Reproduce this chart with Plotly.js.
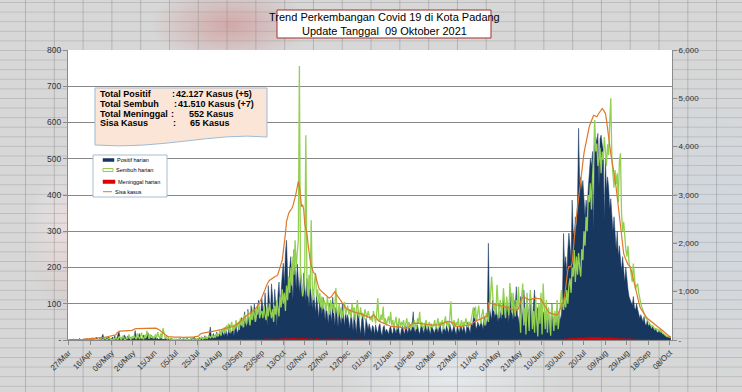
<!DOCTYPE html>
<html>
<head>
<meta charset="utf-8">
<script src="https://cdn.plot.ly/plotly-3.0.1.min.js"></script>
<style>
html,body{margin:0;padding:0;}
#chart{width:742px;height:392px;
background-color:#d7d7d7;
background-image:
 linear-gradient(to right, rgba(150,150,150,0.55) 1px, transparent 1px),
 linear-gradient(to bottom, rgba(150,150,150,0.4) 1px, transparent 1px),
 radial-gradient(ellipse 170px 150px at 150px 250px, rgba(226,140,140,0.55), rgba(226,140,140,0) 72%),
 radial-gradient(ellipse 110px 55px at 230px 25px, rgba(205,110,110,0.45), rgba(205,110,110,0) 72%),
 radial-gradient(ellipse 60px 90px at 70px 230px, rgba(255,255,255,0.55), rgba(255,255,255,0) 72%),
 radial-gradient(ellipse 160px 60px at 450px 380px, rgba(240,245,250,0.6), rgba(240,245,250,0) 72%),
 radial-gradient(ellipse 180px 220px at 720px 220px, rgba(205,215,228,0.6), rgba(205,215,228,0) 72%);
background-size: 28.8px 100%, 100% 9.6px, 100% 100%, 100% 100%, 100% 100%, 100% 100%, 100% 100%;
background-position: 25px 0, 0 2px, 0 0, 0 0, 0 0, 0 0, 0 0;
}
</style>
</head>
<body>
<div id="chart"></div>
<script>
// x tick labels (every 20 days from 27 Mar 2020)
const tickLabels = ["27/Mar","16/Apr","06/May","26/May","15/Jun","05/Jul","25/Jul","14/Aug","03/Sep","23/Sep","13/Oct","02/Nov","22/Nov","12/Dec","01/Jan","21/Jan","10/Feb","02/Mar","22/Mar","11/Apr","01/May","21/May","10/Jun","30/Jun","20/Jul","09/Aug","29/Aug","18/Sep","08/Oct"];
const leftTicks = [0,100,200,300,400,500,600,700,800];
const leftTickText = ["-","100","200","300","400","500","600","700","800"];
const rightTicks = [0,1000,2000,3000,4000,5000,6000];
const rightTickText = ["-","1,000","2,000","3,000","4,000","5,000","6,000"];

// Positif harian (daily)
const positif = [
1,0,2,0,1,3,0,2,1,0,4,2,0,1,3,2,0,5,1,2,
3,1,6,2,0,4,8,3,1,5,2,9,16,4,2,7,3,10,5,2,
4,8,2,12,5,3,15,23,6,2,9,4,14,7,3,11,5,2,8,6,
10,4,26,8,3,12,18,5,2,9,14,6,3,11,20,7,4,13,5,9,
3,8,2,5,1,4,7,2,3,1,5,2,0,3,1,2,4,1,0,2,
1,3,0,2,5,1,0,4,2,1,6,3,0,2,1,5,2,8,3,1,
4,2,7,3,9,5,2,12,6,3,8,15,36,10,4,18,7,12,22,9,
14,25,8,30,18,12,35,20,9,28,42,15,22,38,11,32,45,18,26,50,
40,62,30,55,78,45,35,85,60,40,95,70,52,100,80,48,90,110,65,75,
115,85,60,130,95,40,150,110,70,155,120,55,140,100,35,125,160,90,145,180,
212,150,240,275,180,120,200,230,160,110,250,190,140,210,175,130,200,160,120,185,
155,110,170,130,90,157,120,85,140,100,75,125,95,60,115,100,70,118,85,55,
95,70,45,100,80,50,118,65,40,90,72,35,85,60,42,100,75,38,80,55,
70,45,30,82,60,25,75,50,20,65,83,40,15,55,70,35,10,60,45,30,
45,30,20,40,35,15,42,28,18,38,45,22,12,35,40,20,30,25,15,32,
38,22,15,40,28,18,35,45,20,12,30,38,25,15,42,30,18,35,28,22,
45,78,30,20,38,42,25,15,35,40,28,18,45,30,22,38,25,15,40,32,
28,18,42,35,20,30,45,25,15,38,30,22,40,28,18,45,35,20,30,42,
25,15,38,30,20,45,35,22,40,28,15,42,50,30,20,45,38,60,88,40,
30,50,42,35,55,45,30,64,50,40,60,267,90,70,55,110,80,60,95,65,
50,100,75,55,90,120,70,60,105,85,50,95,130,75,55,110,90,147,70,60,
40,120,95,55,138,70,45,110,85,60,125,75,50,100,138,65,40,90,70,83,
55,40,78,60,37,70,45,65,50,40,101,55,38,72,48,60,42,80,55,70,
120,294,200,230,180,250,295,257,220,386,300,285,340,310,380,584,430,450,414,440,
380,340,386,360,420,470,500,480,520,300,540,560,545,570,420,555,565,540,524,330,
500,414,450,420,360,390,330,300,340,280,250,300,230,260,210,190,230,180,160,200,
156,140,120,110,100,95,120,90,83,100,85,74,60,70,55,50,65,45,40,55,
37,45,40,30,37,28,25,32,22,20,28,18,25,15,18,14,12,10,8,10,
6,5];

// Sembuh harian (daily)
const sembuh = [
0,0,0,0,0,0,1,0,0,0,0,1,0,0,2,0,0,1,0,0,
1,0,2,0,1,3,0,2,1,0,4,2,1,3,5,2,0,4,6,1,
2,0,5,1,8,3,0,10,4,1,6,12,2,0,7,3,15,5,1,9,
4,12,6,2,18,8,3,10,20,5,2,14,7,25,9,3,16,6,11,4,
8,15,5,22,10,4,18,6,33,12,5,9,3,6,2,4,1,3,0,2,
1,2,0,3,1,0,2,4,1,0,3,1,2,0,5,1,0,3,2,1,
2,5,1,3,8,2,6,4,10,3,7,12,5,9,15,6,11,8,18,10,
15,25,12,30,22,35,18,40,28,45,20,38,50,25,42,30,55,35,48,28,
60,40,55,35,70,50,45,80,60,40,75,55,90,65,50,85,70,100,60,75,
80,60,95,70,55,90,65,100,75,60,85,50,95,70,110,80,65,120,90,140,
100,130,80,150,110,175,130,200,150,230,180,275,200,240,275,756,180,150,120,140,
200,565,160,120,180,140,330,150,110,160,185,120,140,100,130,90,120,85,110,100,
80,120,90,70,110,85,100,75,95,143,80,65,100,70,90,60,85,105,70,80,
95,70,85,60,100,75,90,55,80,110,70,60,90,65,75,55,85,70,60,80,
70,55,65,50,80,60,45,75,115,60,50,70,55,92,45,60,40,55,65,45,
78,40,55,35,50,64,30,45,60,35,50,40,55,30,45,60,35,50,40,30,
45,35,55,40,30,60,45,78,35,50,40,30,45,55,35,40,50,30,45,35,
40,55,30,45,60,35,50,40,55,30,45,65,40,50,35,60,106,45,40,55,
35,50,40,60,30,45,55,35,50,40,60,45,35,50,40,55,70,90,60,92,
50,80,95,60,45,70,85,55,40,75,60,50,90,120,175,110,80,100,70,152,
90,60,110,80,70,143,95,60,120,85,70,157,100,75,130,90,65,110,80,147,
60,20,120,156,40,90,15,130,70,25,138,100,30,80,20,120,60,10,100,45,
130,15,156,70,30,110,20,90,45,12,100,60,25,80,40,110,30,60,100,138,
100,83,120,90,138,100,150,170,130,200,175,248,160,230,180,240,200,175,250,220,
300,260,340,300,400,380,432,360,450,500,607,520,542,480,500,530,460,520,497,560,
520,480,540,510,600,667,500,450,420,469,430,460,380,492,515,350,300,326,280,250,
230,260,211,200,180,160,211,170,140,150,156,130,110,100,90,80,70,64,60,55,
50,45,40,37,40,35,30,32,28,30,25,28,22,20,18,15,12,10,9,8,
7,7];

// Meninggal harian (daily)
const meninggal = [
0,0,0,0,1,0,0,0,0,0,1,0,0,0,0,0,1,0,0,0,
0,0,0,1,0,0,0,0,0,0,1,0,0,0,0,0,0,0,1,0,
0,0,1,0,0,0,0,0,1,0,0,0,0,0,0,1,0,0,0,0,
0,1,0,0,0,0,0,1,0,0,0,0,0,0,0,0,1,0,0,0,
0,0,0,0,1,0,0,0,0,0,0,0,0,0,0,0,0,0,0,0,
0,0,0,0,0,0,0,0,0,0,0,0,0,0,0,0,0,0,0,0,
0,0,0,0,0,0,0,0,0,1,0,0,0,0,0,0,0,0,1,0,
0,0,1,0,0,0,0,1,0,0,0,1,0,0,0,0,1,0,0,1,
0,1,0,0,1,0,0,1,0,1,0,0,1,0,1,0,0,1,0,1,
1,2,1,3,2,1,2,4,1,2,3,1,2,3,2,1,3,2,4,2,
3,2,4,3,5,2,3,4,2,3,5,3,2,4,3,2,5,3,4,2,
3,2,4,1,3,2,5,2,3,1,2,4,2,3,1,2,3,2,1,2,
2,1,3,2,1,2,3,1,2,1,2,3,1,2,1,2,1,3,1,2,
1,2,1,3,1,2,1,1,2,1,3,1,2,1,1,2,1,1,2,1,
1,2,1,1,2,1,0,1,2,1,1,0,1,2,1,1,0,1,1,0,
1,0,1,1,0,1,0,0,1,0,1,0,0,1,0,1,0,0,1,0,
0,1,0,0,1,0,0,1,0,0,1,0,0,0,1,0,0,1,0,0,
1,0,0,1,0,0,1,0,0,0,1,0,0,1,0,0,0,1,0,0,
0,1,0,0,1,0,0,0,1,0,0,1,0,0,1,0,0,1,0,1,
0,1,0,1,0,0,1,0,1,0,1,2,1,0,1,1,0,1,0,1,
1,0,1,1,0,1,2,0,1,1,0,1,1,0,2,1,0,1,1,0,
1,1,0,1,2,0,1,1,0,1,1,2,0,1,1,0,1,2,1,0,
1,0,1,1,2,1,0,1,1,0,1,2,1,0,1,1,0,2,1,1,
2,1,3,2,3,2,4,3,2,4,3,5,4,3,5,6,4,5,6,4,
5,6,4,7,5,6,8,5,6,7,5,6,8,5,7,6,5,6,4,5,
6,4,5,7,4,5,6,4,5,3,4,5,3,4,3,2,4,3,2,3,
2,3,2,1,2,3,1,2,1,2,1,1,2,1,0,1,1,0,1,0,
1,0,0,1,0,0,1,0,0,0,1,0,0,0,0,1,0,0,0,0,
0,0];

// Sisa kasus (active cases, right axis)
const sisaKasus = [
1,1,3,3,4,7,7,9,10,10,13,14,14,15,16,18,18,22,23,25,
28,30,32,33,35,36,38,40,41,42,42,45,50,55,58,62,66,70,75,82,
88,92,95,100,105,140,165,180,185,185,186,188,190,192,192,195,196,198,200,200,
210,225,232,235,236,238,240,240,242,244,245,246,248,250,252,254,255,255,252,250,
248,245,240,232,220,200,180,160,140,125,110,95,80,70,65,62,60,60,58,58,
60,58,60,62,60,58,56,58,60,62,60,58,60,62,62,60,58,60,62,64,
66,80,110,130,140,142,145,148,150,155,158,160,165,170,175,180,185,190,195,200,
205,210,215,220,222,228,235,240,245,250,258,265,272,280,290,300,315,330,350,375,
400,420,440,455,470,490,505,520,540,560,575,590,605,620,640,670,700,740,780,830,
880,920,970,1040,1110,1170,1200,1230,1250,1270,1290,1300,1310,1320,1330,1360,1420,1520,1580,1650,
1800,2000,2200,2450,2550,2620,2660,2690,2720,2780,2850,2950,3050,3150,3280,3200,2900,2760,2800,2700,
2400,2300,2200,2000,1800,1650,1550,1450,1400,1380,1350,1250,1150,1080,1040,1020,1000,970,940,920,
900,890,880,870,880,900,940,980,1000,960,920,880,850,830,800,770,740,700,660,640,
630,620,610,600,590,580,575,570,565,560,555,555,550,540,520,510,500,490,485,480,
470,460,480,510,520,500,470,440,410,390,380,370,360,345,330,320,310,300,295,290,
285,280,275,275,270,268,270,272,265,260,255,250,248,245,242,240,250,270,300,330,
345,350,345,340,345,350,348,345,340,345,345,340,335,330,325,320,320,315,312,310,
310,312,310,308,310,315,320,330,340,350,360,370,380,385,380,380,380,370,350,320,
300,285,280,275,275,280,285,290,295,300,305,310,310,310,310,320,340,360,380,400,
405,410,415,420,430,445,460,470,480,485,500,760,770,760,750,745,740,735,730,725,
720,715,710,705,700,700,695,690,690,680,670,650,640,630,620,620,620,620,620,650,
700,780,850,890,900,880,860,850,840,830,830,840,850,860,870,865,860,860,860,855,
840,800,760,720,680,640,600,580,560,550,545,540,530,525,520,520,540,580,650,720,
760,800,900,1100,1300,1450,1520,1520,1520,1600,1900,2200,2340,2550,2750,2960,3200,3400,3600,3760,
3860,3980,4100,4250,4350,4420,4480,4550,4600,4650,4640,4630,4620,4660,4700,4740,4780,4790,4760,4720,
4690,4550,4350,4140,4000,3850,3720,3600,3450,3300,3150,2960,2750,2550,2350,2150,1950,1790,1720,1650,
1600,1560,1540,1520,1450,1350,1250,1150,1050,950,850,760,690,650,610,570,540,510,480,450,
430,415,400,380,360,340,320,300,285,270,255,240,220,200,180,160,140,120,100,80,
70,65];

const summaryLabels = ["Total Positif", "Total Sembuh", "Total Meninggal", "Sisa Kasus"];
const summaryValues = ["42.127 Kasus (+5)", "41.510 Kasus (+7)", "552 Kasus", "65 Kasus"];
const seriesNames = ["Positif harian", "Sembuh harian", "Meninggal harian", "Sisa kasus"];
const titleLines = ["Trend Perkembangan Covid 19 di Kota Padang", "Update Tanggal  09 Oktober 2021"];

// ---- layout helpers (pixel -> paper) ----
const L = 68, R = 672, T = 50, B = 340;
const px = x => (x - L) / (R - L);
const py = y => (B - y) / (B - T);

const dayIdx = positif.map((_, i) => i);
const tickVals = tickLabels.map((_, i) => i * 20);

const NAVY = '#17375e', GREEN = '#92d050', RED = '#e00000', ORANGE = '#e0782a';
const FONT = 'Liberation Sans, Arial, sans-serif';

const traces = [
  {x: dayIdx, y: positif, type: 'scatter', mode: 'lines', name: seriesNames[0],
   fill: 'tozeroy', fillcolor: NAVY, line: {color: NAVY, width: 0.5}, hoverinfo: 'skip'},
  {x: dayIdx, y: meninggal, type: 'scatter', mode: 'lines', name: seriesNames[2],
   fill: 'tozeroy', fillcolor: RED, line: {color: RED, width: 1}, hoverinfo: 'skip'},
  {x: dayIdx, y: sembuh, type: 'scatter', mode: 'lines', name: seriesNames[1],
   line: {color: GREEN, width: 1.3}, hoverinfo: 'skip'},
  {x: dayIdx, y: sisaKasus, type: 'scatter', mode: 'lines', name: seriesNames[3], yaxis: 'y2',
   line: {color: ORANGE, width: 1.2}, hoverinfo: 'skip'}
];

function rectPx(x0, y0, x1, y1, fill, lineColor, lw) {
  return {type: 'rect', xref: 'paper', yref: 'paper', x0: px(x0), x1: px(x1), y0: py(y1), y1: py(y0),
    fillcolor: fill, line: {color: lineColor, width: lw}, layer: 'above'};
}
function linePx(x0, y0, x1, y1, color, lw) {
  return {type: 'line', xref: 'paper', yref: 'paper', x0: px(x0), x1: px(x1), y0: py(y0), y1: py(y1),
    line: {color: color, width: lw}, layer: 'above'};
}
function P(x, y) { return px(x).toFixed(5) + ',' + py(y).toFixed(5); }

const shapes = [];
// title box
shapes.push(rectPx(277, 10, 491, 38, '#ffffff', '#a0302a', 1));
// info box (document shape with wavy bottom)
shapes.push({type: 'path', xref: 'paper', yref: 'paper', layer: 'above',
  path: 'M' + P(95, 88) + ' L' + P(267, 88) + ' L' + P(267, 137) +
        ' C' + P(215, 132) + ' ' + P(160, 150) + ' ' + P(95, 145) + ' Z',
  fillcolor: '#fbe5d6', line: {color: '#9fbad6', width: 1}});
// legend box
shapes.push(rectPx(93, 155, 167, 197, '#ffffff', '#a9bccf', 1));
shapes.push(rectPx(103, 158.5, 114, 161.5, NAVY, NAVY, 0.5));
shapes.push(rectPx(103, 168.5, 113, 171.5, '#ffffff', GREEN, 1));
shapes.push(rectPx(103, 180, 115, 183.5, RED, RED, 0.5));
shapes.push(linePx(103, 191.7, 112, 191.7, ORANGE, 1));

const annotations = [];
function txt(x, y, s, size, opts) {
  annotations.push(Object.assign({xref: 'paper', yref: 'paper', x: px(x), y: py(y), text: s,
    showarrow: false, xanchor: 'left', yanchor: 'middle',
    font: {family: FONT, size: size, color: '#000'}}, opts || {}));
}
// title text
txt(384, 17, titleLines[0], 11, {xanchor: 'center'});
txt(384, 31, titleLines[1], 11, {xanchor: 'center'});
// summary text
const sumY = [94, 104.3, 114.3, 123.3];
const colonX = [170, 171.7, 169.3, 170.7];
const valX = [174, 175.5, 186.5, 187.5];
for (let i = 0; i < 4; i++) {
  txt(98, sumY[i], '<b>' + summaryLabels[i] + '</b>', 9);
  txt(colonX[i], sumY[i], '<b>:</b>', 9);
  txt(valX[i], sumY[i], '<b>' + summaryValues[i] + '</b>', 9);
}
// legend text
txt(114.5, 160, seriesNames[0], 5.5);
txt(113.5, 170, seriesNames[1], 5.5);
txt(115.5, 181.7, seriesNames[2], 5.5);
txt(112.5, 191.7, seriesNames[3], 5.5);

const xFont = {family: FONT, size: 8, color: '#333'};
const yFont = {family: FONT, size: 8.5, color: '#333'};
const y2Font = {family: FONT, size: 8, color: '#333'};
const layout = {
  width: 742, height: 392,
  margin: {l: L, r: 742 - R, t: T, b: 392 - B, pad: 0},
  paper_bgcolor: 'rgba(0,0,0,0)',
  plot_bgcolor: '#ffffff',
  showlegend: false,
  xaxis: {range: [-0.5, 562], tickmode: 'array', tickvals: tickVals, ticktext: tickLabels,
    tickangle: -45, tickfont: xFont, showgrid: false, zeroline: false,
    showline: true, linecolor: '#8a8a8a', linewidth: 1, ticks: 'outside', ticklen: 4, tickcolor: '#8a8a8a'},
  yaxis: {range: [0, 800], tickmode: 'array', tickvals: leftTicks, ticktext: leftTickText,
    tickfont: yFont, showgrid: true, gridcolor: '#888888', gridwidth: 1, zeroline: false,
    showline: true, linecolor: '#8a8a8a', ticks: 'outside', ticklen: 4, tickcolor: '#8a8a8a'},
  yaxis2: {range: [0, 6000], overlaying: 'y', side: 'right', tickmode: 'array', tickvals: rightTicks,
    ticktext: rightTickText, tickfont: y2Font, showgrid: false, zeroline: false,
    showline: true, linecolor: '#8a8a8a', ticks: 'outside', ticklen: 4, tickcolor: '#8a8a8a'},
  shapes: shapes,
  annotations: annotations
};

Plotly.newPlot('chart', traces, layout, {staticPlot: true, displayModeBar: false});
</script>
</body>
</html>
